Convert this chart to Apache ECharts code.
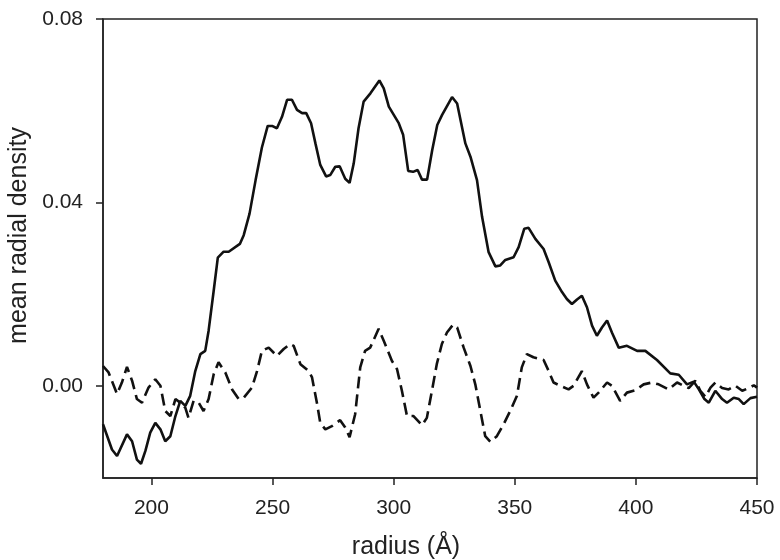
<!DOCTYPE html>
<html>
<head>
<meta charset="utf-8">
<script src="https://cdn.jsdelivr.net/npm/echarts@6/dist/echarts.min.js"></script>
<style>
  html, body { margin: 0; padding: 0; background: #fff; }
  #chart { width: 780px; height: 560px; }
</style>
</head>
<body>
<div id="chart"></div>
<script>
// axis ticks
const xTicks = [200, 250, 300, 350, 400, 450];
const yTicks = [0, 0.04, 0.08];

// solid curve
const solidRadius = [180, 183.7, 185.8, 189.9, 192, 194, 195.7, 197.5, 199.5, 201.6, 203.7, 205.7, 207.8, 209.9, 211.9, 214, 216, 218.1, 220.2, 222.2, 223.6, 225.7, 227.4, 229.8, 231.9, 236.5, 238.1, 240.5, 243, 245.6, 248, 249.8, 251.8, 253.9, 256, 258, 260.1, 262.2, 263.9, 265.9, 267.7, 269.7, 272.1, 273.8, 275.9, 277.7, 280, 281.8, 283.5, 285.5, 287.6, 290.4, 294.1, 295.9, 298, 302.1, 303.9, 306, 308, 309.9, 311.7, 313.8, 315.9, 318, 320, 324.1, 326.2, 327.6, 329.6, 331.7, 334.4, 336.5, 339.2, 342, 344, 346.1, 349.5, 351.6, 353.9, 355.7, 358.5, 361.9, 364, 366.7, 369.5, 371.5, 373.6, 375.7, 377.7, 379.8, 381.9, 383.9, 386, 388.1, 390.1, 392.9, 396.3, 400.5, 403.9, 408.7, 414.2, 417.7, 421.1, 423.9, 426, 428.3, 430.1, 432.8, 435.6, 437.6, 440.4, 442.5, 444.5, 447.3, 450];
const solidDensity = [-0.0083, -0.0138, -0.0152, -0.0105, -0.012, -0.016, -0.0169, -0.0141, -0.0101, -0.008, -0.0094, -0.012, -0.0109, -0.0065, -0.0032, -0.0043, -0.0021, 0.0033, 0.007, 0.0077, 0.0121, 0.0208, 0.028, 0.0293, 0.0293, 0.031, 0.0329, 0.0376, 0.0449, 0.052, 0.0567, 0.0567, 0.0562, 0.0587, 0.0624, 0.0624, 0.0602, 0.0595, 0.0595, 0.0573, 0.0529, 0.0482, 0.0457, 0.046, 0.0478, 0.0479, 0.0452, 0.0443, 0.0485, 0.0562, 0.062, 0.0638, 0.0666, 0.0649, 0.0609, 0.0573, 0.0548, 0.0469, 0.0467, 0.0471, 0.045, 0.045, 0.0514, 0.0569, 0.0591, 0.063, 0.0616, 0.058, 0.0529, 0.05, 0.0449, 0.0369, 0.0292, 0.0261, 0.0263, 0.0275, 0.0281, 0.0303, 0.0343, 0.0345, 0.0321, 0.0299, 0.027, 0.023, 0.0205, 0.019, 0.0179, 0.0189, 0.0197, 0.0172, 0.0132, 0.011, 0.0128, 0.0143, 0.0117, 0.0084, 0.0088, 0.0077, 0.0077, 0.0057, 0.0028, 0.0025, 0.0004, 0.001, -0.0007, -0.0028, -0.0036, -0.001, -0.0028, -0.0036, -0.0025, -0.0028, -0.0039, -0.0026, -0.0023];

// dashed curve
const dashedRadius = [180, 182.3, 185.8, 187.8, 189.9, 192, 194, 196.1, 198.8, 201.6, 203.7, 205.7, 207.8, 209.9, 211.9, 214, 215.3, 217.4, 219.5, 221.5, 223.6, 225.7, 227.7, 230.5, 233.3, 236, 238.1, 241.5, 243.6, 245.6, 248.4, 251.8, 254.6, 257.3, 258.7, 261.5, 264.9, 266.3, 268.4, 269.7, 271.8, 274.5, 277.9, 280, 281.8, 284.1, 286.2, 288.2, 290.3, 293.8, 295.9, 299.3, 301.4, 303.4, 305.5, 308.2, 311.7, 313.7, 315.8, 317.8, 319.9, 322, 324.5, 326.2, 328.9, 331.7, 333.7, 335.8, 337.8, 339.9, 342.6, 345.4, 348.1, 350.9, 352.9, 355, 357.7, 361.9, 364, 366, 368.8, 372.2, 374.3, 377.7, 379.8, 382.5, 384.6, 388.1, 390.1, 393.5, 396.3, 399.7, 403.2, 406.6, 409.4, 413.5, 417, 419.7, 421.8, 424.6, 426.6, 428.7, 430.8, 432.8, 435.6, 438.3, 441.1, 443.9, 446.6, 448.7, 450];
const dashedDensity = [0.0044, 0.003, -0.0017, 0.0008, 0.0042, 0.0012, -0.0028, -0.0036, -0.0003, 0.0015, 0.0001, -0.0054, -0.0065, -0.0028, -0.0036, -0.0047, -0.0069, -0.0032, -0.0036, -0.0054, -0.0028, 0.0026, 0.0052, 0.003, -0.0007, -0.0028, -0.0025, -0.0003, 0.0033, 0.0077, 0.0084, 0.0066, 0.0081, 0.0092, 0.0088, 0.0048, 0.0033, 0.0019, -0.0039, -0.008, -0.0094, -0.0087, -0.0074, -0.009, -0.0111, -0.0061, 0.0041, 0.0077, 0.0084, 0.0125, 0.0099, 0.0055, 0.0037, -0.001, -0.0065, -0.0065, -0.0085, -0.0069, -0.001, 0.0048, 0.0092, 0.0117, 0.0134, 0.0128, 0.0084, 0.0044, 0.0004, -0.0054, -0.0109, -0.0121, -0.0109, -0.0083, -0.0054, -0.0021, 0.0041, 0.007, 0.0063, 0.0057, 0.0033, 0.0008, 0.0001, -0.0007, 0.0001, 0.0033, 0.0004, -0.0025, -0.0014, 0.0008, 0.0001, -0.0032, -0.0014, -0.0009, 0.0004, 0.0008, 0.0004, -0.0007, 0.0008, 0.0001, -0.0004, 0.0012, -0.001, -0.0023, -0.0003, 0.0008, -0.0004, -0.0007, 0.0001, -0.001, -0.0004, 0.0002, -0.0003];

const zip = (xs, ys) => xs.map((x, i) => [x, ys[i]]);

const chart = echarts.init(document.getElementById("chart"));
const font = "Liberation Sans, Arial, sans-serif";

chart.setOption({
  animation: false,
  grid: {
    left: 103,
    right: 23,
    top: 19,
    bottom: 82,
    outerBoundsMode: "none",
    show: true,
    borderColor: "#222",
    borderWidth: 1.5
  },
  xAxis: {
    type: "value",
    min: 180,
    max: 450,
    name: "radius (Å)",
    nameLocation: "middle",
    nameGap: 57,
    nameTextStyle: {
      fontFamily: font,
      fontSize: 25,
      color: "#222",
      padding: [0, 48, 0, 0]
    },
    axisLine: { onZero: false, lineStyle: { color: "#222", width: 1.5 } },
    axisTick: {
      inside: false,
      length: 7,
      customValues: xTicks,
      lineStyle: { color: "#222", width: 1.5 }
    },
    axisLabel: {
      customValues: xTicks,
      margin: 20,
      fontFamily: font,
      fontSize: 21,
      color: "#222"
    },
    splitLine: { show: false }
  },
  yAxis: {
    type: "value",
    min: -0.02,
    max: 0.08,
    name: "mean radial density",
    nameLocation: "middle",
    nameGap: 63,
    nameTextStyle: {
      fontFamily: font,
      fontSize: 25,
      color: "#222",
      padding: [0, 0, 0, 26]
    },
    axisLine: { show: true, onZero: false, lineStyle: { color: "#222", width: 1.5 } },
    axisTick: {
      show: true,
      length: 7,
      customValues: yTicks,
      lineStyle: { color: "#222", width: 1.5 }
    },
    axisLabel: {
      customValues: yTicks,
      margin: 20,
      fontFamily: font,
      fontSize: 21,
      color: "#222",
      formatter: v => v.toFixed(2)
    },
    splitLine: { show: false }
  },
  series: [
    {
      name: "solid",
      type: "line",
      data: zip(solidRadius, solidDensity),
      showSymbol: false,
      lineStyle: { color: "#111", width: 2.6 },
      z: 3
    },
    {
      name: "dashed",
      type: "line",
      data: zip(dashedRadius, dashedDensity),
      showSymbol: false,
      lineStyle: { color: "#111", width: 2.6, type: [12, 6] },
      z: 2
    }
  ]
});
</script>
</body>
</html>
